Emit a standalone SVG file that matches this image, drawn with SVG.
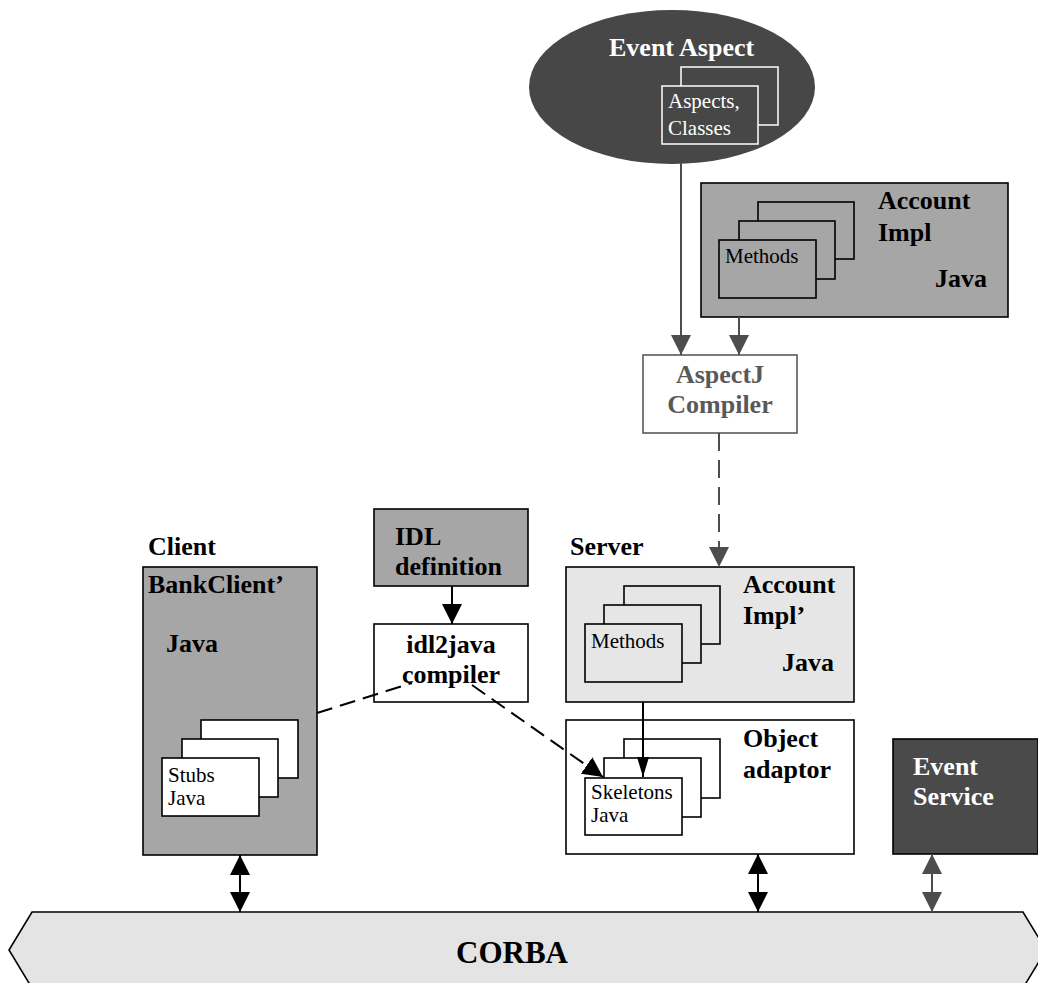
<svg xmlns="http://www.w3.org/2000/svg" width="1038" height="983" viewBox="0 0 1038 983">
<style>
text{font-family:"Liberation Serif","Times New Roman",serif}
.b{font-weight:bold;font-size:26px;fill:#000}
.r{font-size:21px;fill:#000}
.w{fill:#fff}
.box{stroke:#000;stroke-width:1.6}
.ln{stroke:#000;stroke-width:2;fill:none}
.gl{stroke:#4d4d4d;stroke-width:2;fill:none}
</style>
<defs>
<marker id="ab" viewBox="0 0 20 20" refX="20" refY="10" markerWidth="20" markerHeight="20" markerUnits="userSpaceOnUse" orient="auto-start-reverse"><path d="M0,0 L20,10 L0,20 z" fill="#000"/></marker>
<marker id="ag" viewBox="0 0 20 20" refX="20" refY="10" markerWidth="20" markerHeight="20" markerUnits="userSpaceOnUse" orient="auto-start-reverse"><path d="M0,0 L20,10 L0,20 z" fill="#4d4d4d"/></marker>
<marker id="as" viewBox="0 0 20 12" refX="20" refY="6" markerWidth="20" markerHeight="12" markerUnits="userSpaceOnUse" orient="auto"><path d="M0,0 L20,6 L0,12 z" fill="#000"/></marker>
</defs>

<g id="corba">
<polygon points="32,912 1023,912 1046,950 1023,988 32,988 9,950" fill="#e4e4e4" class="box"/>
<text x="456" y="963" class="b" style="font-size:31px">CORBA</text>
</g>

<g id="event-aspect">
<ellipse cx="672" cy="87" rx="143" ry="77" fill="#474747"/>
<text x="609" y="56" class="b w">Event Aspect</text>
<rect x="681" y="67" width="97" height="58" fill="#474747" stroke="#fff" stroke-width="1.5"/>
<rect x="662" y="86" width="96" height="58" fill="#474747" stroke="#fff" stroke-width="1.5"/>
<text x="668" y="108" class="r w">Aspects,</text>
<text x="668" y="135" class="r w">Classes</text>
</g>

<g id="account-impl">
<rect x="701" y="183" width="307" height="134" fill="#a6a6a6" class="box"/>
<rect x="758" y="202" width="96" height="57" fill="#a6a6a6" class="box"/>
<rect x="739" y="221" width="96" height="58" fill="#a6a6a6" class="box"/>
<rect x="719" y="240" width="97" height="58" fill="#a6a6a6" class="box"/>
<text x="725" y="263" class="r">Methods</text>
<text x="878" y="209" class="b">Account</text>
<text x="878" y="241" class="b">Impl</text>
<text x="935" y="287" class="b">Java</text>
</g>

<g id="aspectj-compiler">
<rect x="643" y="355" width="154" height="78" fill="#fff" stroke="#595959" stroke-width="1.6"/>
<text x="720" y="383" class="b" text-anchor="middle" style="fill:#595959">AspectJ</text>
<text x="720" y="413" class="b" text-anchor="middle" style="fill:#595959">Compiler</text>
</g>

<g id="client">
<text x="148" y="555" class="b">Client</text>
<rect x="143" y="567" width="174" height="288" fill="#a6a6a6" class="box"/>
<text x="148" y="593" class="b">BankClient’</text>
<text x="166" y="652" class="b">Java</text>
<rect x="201" y="720" width="97" height="58" fill="#fff" class="box"/>
<rect x="182" y="739" width="96" height="58" fill="#fff" class="box"/>
<rect x="162" y="758" width="97" height="58" fill="#fff" class="box"/>
<text x="168" y="782" class="r">Stubs</text>
<text x="168" y="805" class="r">Java</text>
</g>

<g id="idl-definition">
<rect x="374" y="509" width="154" height="77" fill="#a6a6a6" class="box"/>
<text x="395" y="545" class="b">IDL</text>
<text x="395" y="575" class="b">definition</text>
</g>

<g id="idl2java">
<rect x="374" y="624" width="154" height="78" fill="#fff" class="box"/>
<text x="451" y="653" class="b" text-anchor="middle">idl2java</text>
<text x="451" y="683" class="b" text-anchor="middle">compiler</text>
</g>

<g id="server">
<text x="570" y="555" class="b">Server</text>
<rect x="566" y="567" width="288" height="135" fill="#e6e6e6" class="box"/>
<rect x="624" y="586" width="96" height="58" fill="#e6e6e6" class="box"/>
<rect x="604" y="605" width="97" height="58" fill="#e6e6e6" class="box"/>
<rect x="585" y="624" width="97" height="58" fill="#e6e6e6" class="box"/>
<text x="591" y="648" class="r">Methods</text>
<text x="743" y="593" class="b">Account</text>
<text x="743" y="624" class="b">Impl’</text>
<text x="782" y="671" class="b">Java</text>
</g>

<g id="object-adaptor">
<rect x="566" y="720" width="288" height="134" fill="#fff" class="box"/>
<rect x="624" y="739" width="96" height="59" fill="#fff" class="box"/>
<rect x="604" y="758" width="97" height="59" fill="#fff" class="box"/>
<rect x="585" y="778" width="97" height="57" fill="#fff" class="box"/>
<text x="591" y="799" class="r">Skeletons</text>
<text x="591" y="822" class="r">Java</text>
<text x="743" y="747" class="b">Object</text>
<text x="743" y="778" class="b">adaptor</text>
</g>

<g id="event-service">
<rect x="893" y="739" width="145" height="115" fill="#4a4a4a" class="box"/>
<text x="913" y="775" class="b w">Event</text>
<text x="913" y="805" class="b w">Service</text>
</g>

<g id="connectors">
<line x1="681" y1="163" x2="681" y2="355" class="gl" marker-end="url(#ag)"/>
<line x1="739" y1="317" x2="739" y2="355" class="gl" marker-end="url(#ag)"/>
<line x1="719" y1="433" x2="719" y2="567" class="gl" stroke-dasharray="18,9" marker-end="url(#ag)"/>
<line x1="452" y1="586" x2="452" y2="624" class="ln" marker-end="url(#ab)"/>
<line x1="317" y1="713" x2="412" y2="683" class="ln" stroke-dasharray="16,8"/>
<line x1="472" y1="685" x2="603" y2="777" class="ln" stroke-dasharray="16,8" marker-end="url(#ab)"/>
<line x1="643" y1="702" x2="643" y2="777" class="ln" marker-end="url(#as)"/>
<line x1="240" y1="855" x2="240" y2="912" class="ln" marker-start="url(#ab)" marker-end="url(#ab)"/>
<line x1="758" y1="854" x2="758" y2="912" class="ln" marker-start="url(#ab)" marker-end="url(#ab)"/>
<line x1="932" y1="854" x2="932" y2="912" class="gl" marker-start="url(#ag)" marker-end="url(#ag)"/>
</g>
</svg>
